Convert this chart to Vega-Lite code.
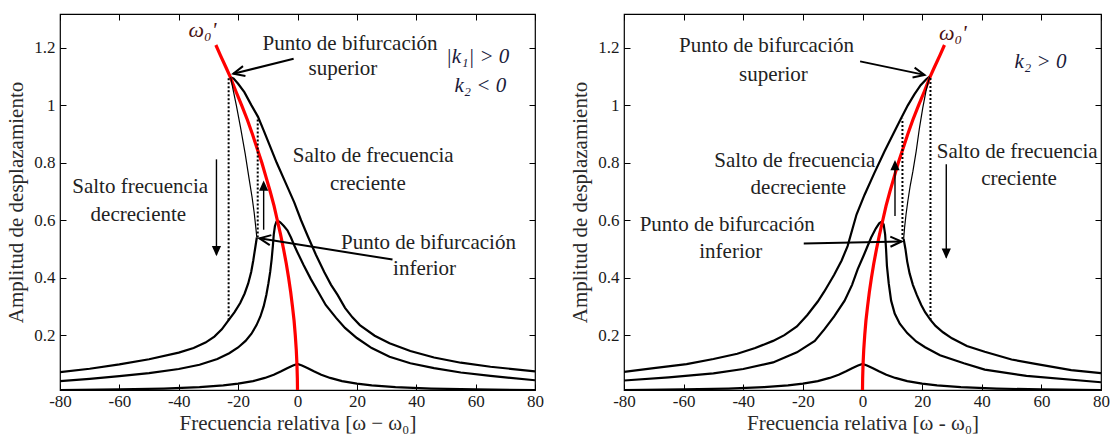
{
  "$schema": "https://vega.github.io/schema/vega-lite/v6.json",
  "background": "white",
  "padding": {"left": 5, "top": 12, "right": 20, "bottom": 0},
  "spacing": 24,
  "config": {
    "view": {"stroke": "#000", "strokeWidth": 1.2},
    "axis": {"grid": false, "domain": false, "tickColor": "#000", "tickWidth": 1, "labelFlush": false, "labelOverlap": false, "labelFont": "Liberation Serif", "labelFontSize": 17, "labelColor": "#1a1a1a", "titleFont": "Liberation Serif", "titleFontSize": 21, "titleFontWeight": "normal", "titleColor": "#2a2a2a"}
  },
  "datasets": {
    "L": [
      {"s":"bot","x":-80,"y":0.009},{"s":"bot","x":-60,"y":0.011},{"s":"bot","x":-45,"y":0.014},{"s":"bot","x":-33,"y":0.019},{"s":"bot","x":-25,"y":0.025},{"s":"bot","x":-20,"y":0.031},{"s":"bot","x":-15,"y":0.04},{"s":"bot","x":-11,"y":0.051},{"s":"bot","x":-8,"y":0.062},{"s":"bot","x":-5.5,"y":0.074},{"s":"bot","x":-3.5,"y":0.085},{"s":"bot","x":-1.5,"y":0.094},{"s":"bot","x":0,"y":0.1},{"s":"bot","x":1.5,"y":0.094},{"s":"bot","x":3.5,"y":0.085},{"s":"bot","x":5.5,"y":0.074},{"s":"bot","x":8,"y":0.062},{"s":"bot","x":11,"y":0.051},{"s":"bot","x":15,"y":0.04},{"s":"bot","x":20,"y":0.031},{"s":"bot","x":25,"y":0.025},{"s":"bot","x":33,"y":0.019},{"s":"bot","x":45,"y":0.014},{"s":"bot","x":60,"y":0.011},{"s":"bot","x":80,"y":0.009},
      {"s":"mid","x":-80,"y":0.04},{"s":"mid","x":-70,"y":0.048},{"s":"mid","x":-60,"y":0.057},{"s":"mid","x":-50,"y":0.068},{"s":"mid","x":-40,"y":0.082},{"s":"mid","x":-33,"y":0.097},{"s":"mid","x":-27,"y":0.117},{"s":"mid","x":-23,"y":0.137},{"s":"mid","x":-20,"y":0.157},{"s":"mid","x":-17.5,"y":0.18},{"s":"mid","x":-15.5,"y":0.205},{"s":"mid","x":-13.8,"y":0.235},{"s":"mid","x":-12.5,"y":0.265},{"s":"mid","x":-11.4,"y":0.3},{"s":"mid","x":-10.5,"y":0.34},{"s":"mid","x":-9.8,"y":0.38},{"s":"mid","x":-9.2,"y":0.42},{"s":"mid","x":-8.7,"y":0.465},{"s":"mid","x":-8.3,"y":0.51},{"s":"mid","x":-8,"y":0.55},{"s":"mid","x":-7.6,"y":0.58},{"s":"mid","x":-7.1,"y":0.595},{"s":"mid","x":-6.6,"y":0.598},{"s":"mid","x":-5.8,"y":0.593},{"s":"mid","x":-4.6,"y":0.58},{"s":"mid","x":-3.4,"y":0.565},{"s":"mid","x":-2.2,"y":0.54},{"s":"mid","x":-1,"y":0.51},{"s":"mid","x":0,"y":0.488},{"s":"mid","x":2,"y":0.445},{"s":"mid","x":4.5,"y":0.395},{"s":"mid","x":7,"y":0.35},{"s":"mid","x":9.5,"y":0.305},{"s":"mid","x":13,"y":0.26},{"s":"mid","x":16,"y":0.225},{"s":"mid","x":20,"y":0.19},{"s":"mid","x":25,"y":0.155},{"s":"mid","x":31,"y":0.125},{"s":"mid","x":38,"y":0.102},{"s":"mid","x":46,"y":0.085},{"s":"mid","x":55,"y":0.07},{"s":"mid","x":65,"y":0.058},{"s":"mid","x":80,"y":0.043},
      {"s":"topA","x":-80,"y":0.071},{"s":"topA","x":-70,"y":0.083},{"s":"topA","x":-60,"y":0.098},{"s":"topA","x":-50,"y":0.116},{"s":"topA","x":-40,"y":0.139},{"s":"topA","x":-35,"y":0.155},{"s":"topA","x":-31,"y":0.174},{"s":"topA","x":-28,"y":0.195},{"s":"topA","x":-25.5,"y":0.22},{"s":"topA","x":-23.2,"y":0.252},{"s":"topA","x":-21.2,"y":0.28},{"s":"topA","x":-19.3,"y":0.312},{"s":"topA","x":-17.8,"y":0.345},{"s":"topA","x":-16.6,"y":0.38},{"s":"topA","x":-15.6,"y":0.42},{"s":"topA","x":-14.9,"y":0.46},{"s":"topA","x":-14.3,"y":0.5},{"s":"topA","x":-13.7,"y":0.54},
      {"s":"unst","x":-13.7,"y":0.54},{"s":"unst","x":-14.1,"y":0.58},{"s":"unst","x":-14.6,"y":0.627},{"s":"unst","x":-15.3,"y":0.68},{"s":"unst","x":-16.3,"y":0.744},{"s":"unst","x":-17.6,"y":0.83},{"s":"unst","x":-19.1,"y":0.918},{"s":"unst","x":-20.6,"y":1.0},{"s":"unst","x":-21.7,"y":1.055},{"s":"unst","x":-22.5,"y":1.098},
      {"s":"topB","x":-22.5,"y":1.098},{"s":"topB","x":-21.5,"y":1.093},{"s":"topB","x":-20,"y":1.075},{"s":"topB","x":-17.9,"y":1.046},{"s":"topB","x":-15.5,"y":1.0},{"s":"topB","x":-13.3,"y":0.96},{"s":"topB","x":-11.3,"y":0.91},{"s":"topB","x":-9.5,"y":0.864},{"s":"topB","x":-7,"y":0.8},{"s":"topB","x":-4,"y":0.73},{"s":"topB","x":-1.1,"y":0.662},{"s":"topB","x":1.2,"y":0.6},{"s":"topB","x":3.4,"y":0.546},{"s":"topB","x":6.2,"y":0.48},{"s":"topB","x":9,"y":0.42},{"s":"topB","x":11.3,"y":0.375},{"s":"topB","x":13.5,"y":0.34},{"s":"topB","x":16,"y":0.295},{"s":"topB","x":18.5,"y":0.262},{"s":"topB","x":21,"y":0.235},{"s":"topB","x":26,"y":0.198},{"s":"topB","x":31,"y":0.172},{"s":"topB","x":38,"y":0.145},{"s":"topB","x":46,"y":0.122},{"s":"topB","x":55,"y":0.104},{"s":"topB","x":65,"y":0.09},{"s":"topB","x":80,"y":0.074},
      {"s":"dot1","x":-23.2,"y":0.252},{"s":"dot1","x":-23.2,"y":1.098},
      {"s":"dot2","x":-13.4,"y":0.54},{"s":"dot2","x":-13.4,"y":0.957},
      {"s":"red","x":-27.5,"y":1.21},{"s":"red","x":-26,"y":1.175},{"s":"red","x":-24,"y":1.13},{"s":"red","x":-22.7,"y":1.1},{"s":"red","x":-20.8,"y":1.05},{"s":"red","x":-18.8,"y":1.0},{"s":"red","x":-16.9,"y":0.95},{"s":"red","x":-15.2,"y":0.9},{"s":"red","x":-13.6,"y":0.85},{"s":"red","x":-12,"y":0.8},{"s":"red","x":-10.6,"y":0.75},{"s":"red","x":-9.2,"y":0.7},{"s":"red","x":-7.9,"y":0.65},{"s":"red","x":-6.8,"y":0.6},{"s":"red","x":-5.7,"y":0.55},{"s":"red","x":-4.7,"y":0.5},{"s":"red","x":-3.8,"y":0.45},{"s":"red","x":-3.0,"y":0.4},{"s":"red","x":-2.3,"y":0.35},{"s":"red","x":-1.7,"y":0.3},{"s":"red","x":-1.15,"y":0.25},{"s":"red","x":-0.75,"y":0.2},{"s":"red","x":-0.42,"y":0.15},{"s":"red","x":-0.19,"y":0.1},{"s":"red","x":-0.05,"y":0.05},{"s":"red","x":0,"y":0.009},
      {"s":"aSup","x":-1.3,"y":1.162},{"s":"aSup","x":-21.6,"y":1.11},
      {"s":"aInf","x":32,"y":0.463},{"s":"aInf","x":-12.8,"y":0.537},
      {"s":"aUp","x":-11.4,"y":0.567},{"s":"aUp","x":-11.4,"y":0.73},
      {"s":"aDn","x":-27.3,"y":0.812},{"s":"aDn","x":-27.3,"y":0.48},
      {"s":"hSup","x":-21.6,"y":1.11},{"s":"hInf","x":-12.8,"y":0.537},{"s":"hUp","x":-11.4,"y":0.738},{"s":"hDn","x":-27.3,"y":0.475}
    ],
    "R": [
      {"s":"bot","x":-80,"y":0.009},{"s":"bot","x":-60,"y":0.011},{"s":"bot","x":-45,"y":0.014},{"s":"bot","x":-33,"y":0.019},{"s":"bot","x":-25,"y":0.025},{"s":"bot","x":-20,"y":0.031},{"s":"bot","x":-15,"y":0.04},{"s":"bot","x":-11,"y":0.051},{"s":"bot","x":-8,"y":0.062},{"s":"bot","x":-5.5,"y":0.074},{"s":"bot","x":-3.5,"y":0.085},{"s":"bot","x":-1.5,"y":0.094},{"s":"bot","x":0,"y":0.1},{"s":"bot","x":1.5,"y":0.094},{"s":"bot","x":3.5,"y":0.085},{"s":"bot","x":5.5,"y":0.074},{"s":"bot","x":8,"y":0.062},{"s":"bot","x":11,"y":0.051},{"s":"bot","x":15,"y":0.04},{"s":"bot","x":20,"y":0.031},{"s":"bot","x":25,"y":0.025},{"s":"bot","x":33,"y":0.019},{"s":"bot","x":45,"y":0.014},{"s":"bot","x":60,"y":0.011},{"s":"bot","x":80,"y":0.009},
      {"s":"mid","x":-80,"y":0.042},{"s":"mid","x":-65,"y":0.053},{"s":"mid","x":-50,"y":0.067},{"s":"mid","x":-40,"y":0.082},{"s":"mid","x":-30,"y":0.105},{"s":"mid","x":-22,"y":0.14},{"s":"mid","x":-16,"y":0.18},{"s":"mid","x":-12.8,"y":0.22},{"s":"mid","x":-9.5,"y":0.265},{"s":"mid","x":-6,"y":0.32},{"s":"mid","x":-3.5,"y":0.375},{"s":"mid","x":-1.6,"y":0.43},{"s":"mid","x":0.5,"y":0.48},{"s":"mid","x":2.9,"y":0.54},{"s":"mid","x":4.5,"y":0.572},{"s":"mid","x":5.6,"y":0.589},{"s":"mid","x":6.4,"y":0.595},{"s":"mid","x":7.1,"y":0.585},{"s":"mid","x":7.6,"y":0.55},{"s":"mid","x":7.9,"y":0.5},{"s":"mid","x":8.2,"y":0.44},{"s":"mid","x":8.8,"y":0.38},{"s":"mid","x":9.6,"y":0.32},{"s":"mid","x":10.8,"y":0.275},{"s":"mid","x":12.5,"y":0.24},{"s":"mid","x":15,"y":0.207},{"s":"mid","x":18,"y":0.178},{"s":"mid","x":21,"y":0.158},{"s":"mid","x":26,"y":0.13},{"s":"mid","x":34,"y":0.102},{"s":"mid","x":41,"y":0.08},{"s":"mid","x":55,"y":0.058},{"s":"mid","x":80,"y":0.036},
      {"s":"topA","x":80,"y":0.068},{"s":"topA","x":70,"y":0.078},{"s":"topA","x":58,"y":0.1},{"s":"topA","x":50,"y":0.115},{"s":"topA","x":41,"y":0.142},{"s":"topA","x":35,"y":0.162},{"s":"topA","x":30,"y":0.189},{"s":"topA","x":27,"y":0.21},{"s":"topA","x":24.5,"y":0.232},{"s":"topA","x":22.8,"y":0.253},{"s":"topA","x":21,"y":0.28},{"s":"topA","x":19.7,"y":0.305},{"s":"topA","x":18.2,"y":0.34},{"s":"topA","x":16.9,"y":0.375},{"s":"topA","x":15.8,"y":0.415},{"s":"topA","x":15,"y":0.456},{"s":"topA","x":14.4,"y":0.5},{"s":"topA","x":13.8,"y":0.535},
      {"s":"unst","x":13.8,"y":0.535},{"s":"unst","x":14.1,"y":0.573},{"s":"unst","x":14.6,"y":0.62},{"s":"unst","x":15.2,"y":0.666},{"s":"unst","x":16,"y":0.72},{"s":"unst","x":16.9,"y":0.77},{"s":"unst","x":18,"y":0.84},{"s":"unst","x":19.1,"y":0.921},{"s":"unst","x":20.2,"y":0.99},{"s":"unst","x":21.3,"y":1.05},{"s":"unst","x":22.5,"y":1.1},
      {"s":"topB","x":22.5,"y":1.1},{"s":"topB","x":21.3,"y":1.09},{"s":"topB","x":19.5,"y":1.07},{"s":"topB","x":17.4,"y":1.038},{"s":"topB","x":15.2,"y":1.0},{"s":"topB","x":13,"y":0.956},{"s":"topB","x":10.3,"y":0.9},{"s":"topB","x":7.4,"y":0.84},{"s":"topB","x":4,"y":0.765},{"s":"topB","x":0.7,"y":0.689},{"s":"topB","x":-2,"y":0.62},{"s":"topB","x":-5,"y":0.51},{"s":"topB","x":-7,"y":0.46},{"s":"topB","x":-9.5,"y":0.41},{"s":"topB","x":-12.8,"y":0.352},{"s":"topB","x":-15,"y":0.317},{"s":"topB","x":-18.5,"y":0.27},{"s":"topB","x":-22,"y":0.23},{"s":"topB","x":-26.2,"y":0.2},{"s":"topB","x":-30,"y":0.18},{"s":"topB","x":-36,"y":0.155},{"s":"topB","x":-42,"y":0.135},{"s":"topB","x":-50,"y":0.117},{"s":"topB","x":-59,"y":0.099},{"s":"topB","x":-70,"y":0.085},{"s":"topB","x":-80,"y":0.072},
      {"s":"dot1","x":22.8,"y":0.253},{"s":"dot1","x":22.8,"y":1.1},
      {"s":"dot2","x":13.4,"y":0.535},{"s":"dot2","x":13.4,"y":0.953},
      {"s":"red","x":27.5,"y":1.21},{"s":"red","x":26,"y":1.175},{"s":"red","x":24,"y":1.13},{"s":"red","x":22.7,"y":1.1},{"s":"red","x":20.8,"y":1.05},{"s":"red","x":18.8,"y":1.0},{"s":"red","x":16.9,"y":0.95},{"s":"red","x":15.2,"y":0.9},{"s":"red","x":13.6,"y":0.85},{"s":"red","x":12,"y":0.8},{"s":"red","x":10.6,"y":0.75},{"s":"red","x":9.2,"y":0.7},{"s":"red","x":7.9,"y":0.65},{"s":"red","x":6.8,"y":0.6},{"s":"red","x":5.7,"y":0.55},{"s":"red","x":4.7,"y":0.5},{"s":"red","x":3.8,"y":0.45},{"s":"red","x":3.0,"y":0.4},{"s":"red","x":2.3,"y":0.35},{"s":"red","x":1.7,"y":0.3},{"s":"red","x":1.15,"y":0.25},{"s":"red","x":0.75,"y":0.2},{"s":"red","x":0.42,"y":0.15},{"s":"red","x":0.19,"y":0.1},{"s":"red","x":0.05,"y":0.05},{"s":"red","x":0,"y":0.009},
      {"s":"aSup","x":-0.8,"y":1.153},{"s":"aSup","x":20.8,"y":1.106},
      {"s":"aInf","x":-19.7,"y":0.519},{"s":"aInf","x":13.1,"y":0.526},
      {"s":"aUp","x":10.9,"y":0.615},{"s":"aUp","x":10.9,"y":0.8},
      {"s":"aDn","x":28.1,"y":0.795},{"s":"aDn","x":28.1,"y":0.47},
      {"s":"hSup","x":20.8,"y":1.106},{"s":"hInf","x":13.1,"y":0.526},{"s":"hUp","x":10.9,"y":0.81},{"s":"hDn","x":28.1,"y":0.466}
    ],
    "LT": [
      {"x":17.7,"y":1.215,"t":"Punto de bifurcación"},{"x":15.3,"y":1.125,"t":"superior"},
      {"x":25.5,"y":0.822,"t":"Salto de frecuencia"},{"x":23.7,"y":0.725,"t":"creciente"},
      {"x":-53,"y":0.714,"t":"Salto frecuencia"},{"x":-53.6,"y":0.619,"t":"decreciente"},
      {"x":44.1,"y":0.52,"t":"Punto de bifurcación"},{"x":42.8,"y":0.43,"t":"inferior"}
    ],
    "LW": [{"x":-32,"y":1.261,"t":"ω₀'"}],
    "LK": [{"x":60.7,"y":1.168,"t":"|k₁| > 0"},{"x":61.6,"y":1.069,"t":"k₂ < 0"}],
    "RT": [
      {"x":-32.2,"y":1.205,"t":"Punto de bifurcación"},{"x":-29.9,"y":1.107,"t":"superior"},
      {"x":-22.7,"y":0.805,"t":"Salto de frecuencia"},{"x":-21.5,"y":0.711,"t":"decreciente"},
      {"x":-45.4,"y":0.584,"t":"Punto de bifurcación"},{"x":-44.2,"y":0.488,"t":"inferior"},
      {"x":51.9,"y":0.836,"t":"Salto de frecuencia"},{"x":52.5,"y":0.744,"t":"creciente"}
    ],
    "RW": [{"x":30.3,"y":1.253,"t":"ω₀'"}],
    "RK": [{"x":59.7,"y":1.15,"t":"k₂ > 0"}]
  },
  "hconcat": [
    {
      "width": 475, "height": 376,
      "data": {"name": "L"},
      "encoding": {
        "x": {"field": "x", "type": "quantitative", "scale": {"domain": [-80, 80], "nice": false, "zero": false}, "axis": null},
        "y": {"field": "y", "type": "quantitative", "scale": {"domain": [0.009, 1.318], "nice": false, "zero": false}, "axis": null}
      },
      "resolve": {"axis": {"x": "independent", "y": "independent"}},
      "layer": [
        {
          "transform": [{"filter": "indexof(['bot','mid','topA','topB'], datum.s) >= 0"}, {"window": [{"op": "row_number", "as": "o"}]}],
          "mark": {"type": "line", "color": "#000", "strokeWidth": 2.2, "clip": true},
          "encoding": {
            "x": {"field": "x", "type": "quantitative", "scale": {"domain": [-80, 80], "nice": false, "zero": false},
                  "axis": {"orient": "bottom", "values": [-80, -60, -40, -20, 0, 20, 40, 60, 80], "labelExpr": "datum.value", "tickSize": -6, "labelPadding": 9, "title": "Frecuencia relativa [ω − ω₀]", "titlePadding": 3}},
            "y": {"field": "y", "type": "quantitative", "scale": {"domain": [0.009, 1.318], "nice": false, "zero": false},
                  "axis": {"orient": "left", "values": [0.2, 0.4, 0.6, 0.8, 1, 1.2], "labelExpr": "datum.value", "tickSize": -6, "labelPadding": 11, "title": "Amplitud de desplazamiento", "titlePadding": 7}},
            "detail": {"field": "s"},
            "order": {"field": "o", "type": "quantitative"}
          }
        },
        {
          "transform": [{"filter": "datum.s == 'red'"}, {"window": [{"op": "row_number", "as": "o"}]}],
          "mark": {"type": "line", "color": "#ff0000", "strokeWidth": 3.2, "clip": true},
          "encoding": {
            "x": {"field": "x", "type": "quantitative", "scale": {"domain": [-80, 80], "nice": false, "zero": false},
                  "axis": {"orient": "top", "values": [-80, -60, -40, -20, 0, 20, 40, 60, 80], "labels": false, "tickSize": -6, "title": null}},
            "y": {"field": "y", "type": "quantitative", "scale": {"domain": [0.009, 1.318], "nice": false, "zero": false},
                  "axis": {"orient": "right", "values": [0.2, 0.4, 0.6, 0.8, 1, 1.2], "labels": false, "tickSize": -6, "title": null}},
            "order": {"field": "o", "type": "quantitative"}
          }
        },
        {
          "transform": [{"filter": "datum.s == 'unst'"}, {"window": [{"op": "row_number", "as": "o"}]}],
          "mark": {"type": "line", "color": "#000", "strokeWidth": 1.2},
          "encoding": {"order": {"field": "o", "type": "quantitative"}}
        },
        {
          "transform": [{"filter": "datum.s == 'dot1' || datum.s == 'dot2'"}, {"window": [{"op": "row_number", "as": "o"}]}],
          "mark": {"type": "line", "color": "#000", "strokeWidth": 2, "strokeDash": [2, 2]},
          "encoding": {"detail": {"field": "s"}, "order": {"field": "o", "type": "quantitative"}}
        },
        {
          "transform": [{"filter": "datum.s == 'aSup' || datum.s == 'aInf'"}, {"window": [{"op": "row_number", "as": "o"}]}],
          "mark": {"type": "line", "color": "#000", "strokeWidth": 2},
          "encoding": {"detail": {"field": "s"}, "order": {"field": "o", "type": "quantitative"}}
        },
        {
          "transform": [{"filter": "datum.s == 'aUp' || datum.s == 'aDn'"}, {"window": [{"op": "row_number", "as": "o"}]}],
          "mark": {"type": "line", "color": "#000", "strokeWidth": 1.4},
          "encoding": {"detail": {"field": "s"}, "order": {"field": "o", "type": "quantitative"}}
        },
        {
          "transform": [{"filter": "datum.s == 'hSup'"}],
          "mark": {"type": "point", "shape": "M-1,-0.45L0,0L-1,0.45", "size": 500, "filled": false, "stroke": "#000", "strokeWidth": 2, "angle": 166, "opacity": 1}
        },
        {
          "transform": [{"filter": "datum.s == 'hInf'"}],
          "mark": {"type": "point", "shape": "M-1,-0.45L0,0L-1,0.45", "size": 500, "filled": false, "stroke": "#000", "strokeWidth": 2, "angle": 189, "opacity": 1}
        },
        {
          "transform": [{"filter": "datum.s == 'hUp'"}],
          "mark": {"type": "point", "shape": "M0,0L-0.45,1L0.45,1Z", "size": 420, "filled": true, "color": "#000", "opacity": 1}
        },
        {
          "transform": [{"filter": "datum.s == 'hDn'"}],
          "mark": {"type": "point", "shape": "M0,0L-0.45,-1L0.45,-1Z", "size": 420, "filled": true, "color": "#000", "opacity": 1}
        },
        {
          "data": {"name": "LT"},
          "mark": {"type": "text", "font": "Liberation Serif", "fontSize": 21, "color": "#222", "align": "center", "baseline": "middle"},
          "encoding": {"text": {"field": "t"}}
        },
        {
          "data": {"name": "LW"},
          "mark": {"type": "text", "font": "Liberation Serif", "fontSize": 22, "fontStyle": "italic", "color": "#4a1212", "align": "center", "baseline": "middle"},
          "encoding": {"text": {"field": "t"}}
        },
        {
          "data": {"name": "LK"},
          "mark": {"type": "text", "font": "Liberation Serif", "fontSize": 21, "fontStyle": "italic", "color": "#1a1a3a", "align": "center", "baseline": "middle"},
          "encoding": {"text": {"field": "t"}}
        }
      ]
    },
    {
      "width": 477, "height": 376,
      "data": {"name": "R"},
      "encoding": {
        "x": {"field": "x", "type": "quantitative", "scale": {"domain": [-80, 80], "nice": false, "zero": false}, "axis": null},
        "y": {"field": "y", "type": "quantitative", "scale": {"domain": [0.009, 1.318], "nice": false, "zero": false}, "axis": null}
      },
      "resolve": {"axis": {"x": "independent", "y": "independent"}},
      "layer": [
        {
          "transform": [{"filter": "indexof(['bot','mid','topA','topB'], datum.s) >= 0"}, {"window": [{"op": "row_number", "as": "o"}]}],
          "mark": {"type": "line", "color": "#000", "strokeWidth": 2.2, "clip": true},
          "encoding": {
            "x": {"field": "x", "type": "quantitative", "scale": {"domain": [-80, 80], "nice": false, "zero": false},
                  "axis": {"orient": "bottom", "values": [-80, -60, -40, -20, 0, 20, 40, 60, 80], "labelExpr": "datum.value", "tickSize": -6, "labelPadding": 9, "title": "Frecuencia relativa [ω - ω₀]", "titlePadding": 3}},
            "y": {"field": "y", "type": "quantitative", "scale": {"domain": [0.009, 1.318], "nice": false, "zero": false},
                  "axis": {"orient": "left", "values": [0.2, 0.4, 0.6, 0.8, 1, 1.2], "labelExpr": "datum.value", "tickSize": -6, "labelPadding": 11, "title": "Amplitud de desplazamiento", "titlePadding": 7}},
            "detail": {"field": "s"},
            "order": {"field": "o", "type": "quantitative"}
          }
        },
        {
          "transform": [{"filter": "datum.s == 'red'"}, {"window": [{"op": "row_number", "as": "o"}]}],
          "mark": {"type": "line", "color": "#ff0000", "strokeWidth": 3.2, "clip": true},
          "encoding": {
            "x": {"field": "x", "type": "quantitative", "scale": {"domain": [-80, 80], "nice": false, "zero": false},
                  "axis": {"orient": "top", "values": [-80, -60, -40, -20, 0, 20, 40, 60, 80], "labels": false, "tickSize": -6, "title": null}},
            "y": {"field": "y", "type": "quantitative", "scale": {"domain": [0.009, 1.318], "nice": false, "zero": false},
                  "axis": {"orient": "right", "values": [0.2, 0.4, 0.6, 0.8, 1, 1.2], "labels": false, "tickSize": -6, "title": null}},
            "order": {"field": "o", "type": "quantitative"}
          }
        },
        {
          "transform": [{"filter": "datum.s == 'unst'"}, {"window": [{"op": "row_number", "as": "o"}]}],
          "mark": {"type": "line", "color": "#000", "strokeWidth": 1.2},
          "encoding": {"order": {"field": "o", "type": "quantitative"}}
        },
        {
          "transform": [{"filter": "datum.s == 'dot1' || datum.s == 'dot2'"}, {"window": [{"op": "row_number", "as": "o"}]}],
          "mark": {"type": "line", "color": "#000", "strokeWidth": 2, "strokeDash": [2, 2]},
          "encoding": {"detail": {"field": "s"}, "order": {"field": "o", "type": "quantitative"}}
        },
        {
          "transform": [{"filter": "datum.s == 'aSup' || datum.s == 'aInf'"}, {"window": [{"op": "row_number", "as": "o"}]}],
          "mark": {"type": "line", "color": "#000", "strokeWidth": 2},
          "encoding": {"detail": {"field": "s"}, "order": {"field": "o", "type": "quantitative"}}
        },
        {
          "transform": [{"filter": "datum.s == 'aUp' || datum.s == 'aDn'"}, {"window": [{"op": "row_number", "as": "o"}]}],
          "mark": {"type": "line", "color": "#000", "strokeWidth": 1.4},
          "encoding": {"detail": {"field": "s"}, "order": {"field": "o", "type": "quantitative"}}
        },
        {
          "transform": [{"filter": "datum.s == 'hSup'"}],
          "mark": {"type": "point", "shape": "M-1,-0.45L0,0L-1,0.45", "size": 500, "filled": false, "stroke": "#000", "strokeWidth": 2, "angle": 12, "opacity": 1}
        },
        {
          "transform": [{"filter": "datum.s == 'hInf'"}],
          "mark": {"type": "point", "shape": "M-1,-0.45L0,0L-1,0.45", "size": 500, "filled": false, "stroke": "#000", "strokeWidth": 2, "angle": -1, "opacity": 1}
        },
        {
          "transform": [{"filter": "datum.s == 'hUp'"}],
          "mark": {"type": "point", "shape": "M0,0L-0.45,1L0.45,1Z", "size": 420, "filled": true, "color": "#000", "opacity": 1}
        },
        {
          "transform": [{"filter": "datum.s == 'hDn'"}],
          "mark": {"type": "point", "shape": "M0,0L-0.45,-1L0.45,-1Z", "size": 420, "filled": true, "color": "#000", "opacity": 1}
        },
        {
          "data": {"name": "RT"},
          "mark": {"type": "text", "font": "Liberation Serif", "fontSize": 21, "color": "#222", "align": "center", "baseline": "middle"},
          "encoding": {"text": {"field": "t"}}
        },
        {
          "data": {"name": "RW"},
          "mark": {"type": "text", "font": "Liberation Serif", "fontSize": 22, "fontStyle": "italic", "color": "#4a1212", "align": "center", "baseline": "middle"},
          "encoding": {"text": {"field": "t"}}
        },
        {
          "data": {"name": "RK"},
          "mark": {"type": "text", "font": "Liberation Serif", "fontSize": 21, "fontStyle": "italic", "color": "#1a1a3a", "align": "center", "baseline": "middle"},
          "encoding": {"text": {"field": "t"}}
        }
      ]
    }
  ]
}
